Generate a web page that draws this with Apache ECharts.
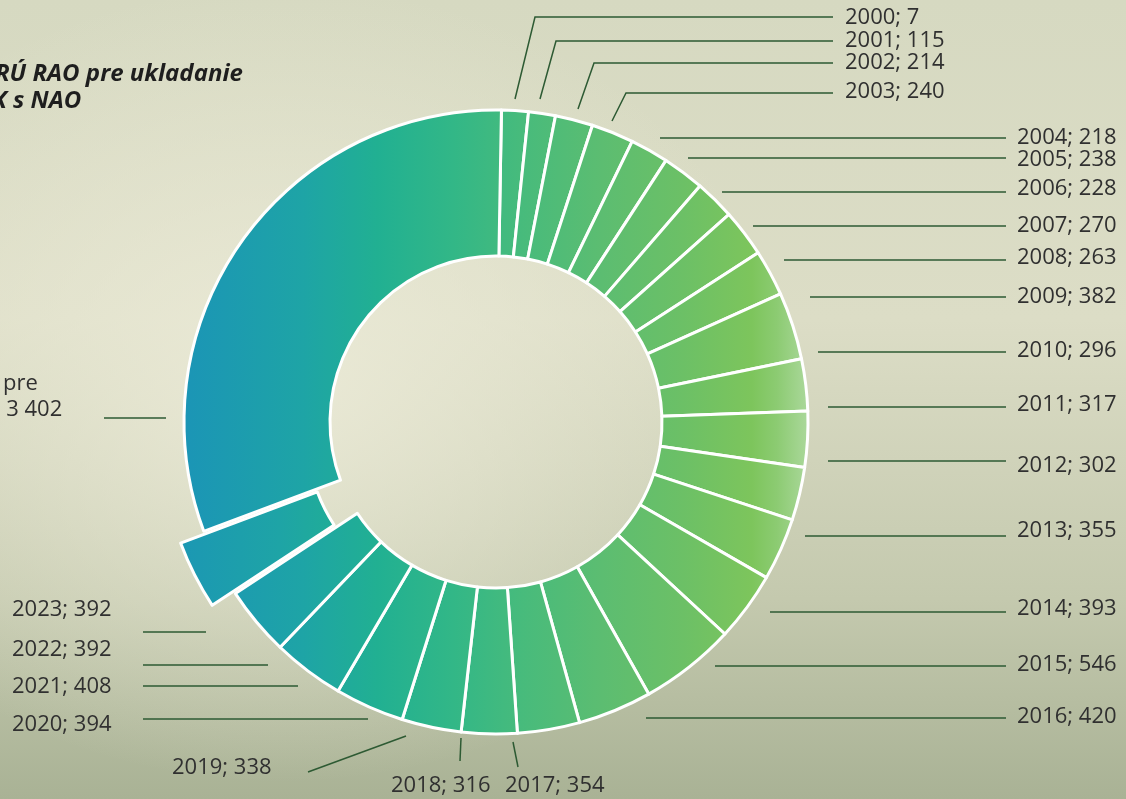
<!DOCTYPE html>
<html>
<head>
<meta charset="utf-8">
<title>RÚ RAO – VBK s NAO</title>
<script src="https://cdn.jsdelivr.net/npm/echarts@6/dist/echarts.min.js"></script>
<style>
  html, body {
    margin: 0;
    padding: 0;
  }
  #chart {
    width: 1126px;
    height: 799px;
    background:
      radial-gradient(ellipse 45% 50% at 25% 48%, rgba(236, 235, 216, 0.9), rgba(236, 235, 216, 0) 100%),
      linear-gradient(180deg, #d6d9c1 0%, #dcddc6 40%, #c4c9ae 75%, #a9b295 100%);
  }
</style>
</head>
<body>
<div id="chart"></div>
<script>
  // uložené VBK podľa rokov
  var years = ['2000', '2001', '2002', '2003', '2004', '2005', '2006', '2007', '2008', '2009', '2010', '2011',
    '2012', '2013', '2014', '2015', '2016', '2017', '2018', '2019', '2020', '2021', '2022', '2023']
  var stored = [7, 115, 214, 240, 218, 238, 228, 270, 263, 382, 296, 317,
    302, 355, 393, 546, 420, 354, 316, 338, 394, 408, 392, 392]
  // zvyšná kapacita
  var freeLine1 = 'Voľná kapacita pre'
  var freeLine2 = 'ukladanie VBK'
  var freeValue = 3402
  var explodedYear = '2023'

  var labelFont = "'Open Sans', sans-serif"
  var labelSize = 22
  var titleSize = 24

  // šírka textu (na posun orezaných textov za ľavý okraj)
  var measureCtx = document.createElement('canvas').getContext('2d')
  function textWidth (text, font) {
    measureCtx.font = font
    return measureCtx.measureText(text).width
  }

  // popis zvyšnej kapacity začína mimo obrázka, viditeľné je len "pre" a "3 402"
  var freeLabelX = 3 - textWidth('Voľná kapacita ', labelSize + 'px ' + labelFont)

  // umiestnenie popisov (x, y, zarovnanie, vodiaca čiara)
  var labelSpots = [
    {x: 845, y: 18, align: 'left', line: [[515, 99], [535, 17], [833, 17]]},
    {x: 845, y: 41, align: 'left', line: [[540, 99], [556, 41], [833, 41]]},
    {x: 845, y: 63, align: 'left', line: [[578, 109], [594, 63], [833, 63]]},
    {x: 845, y: 92, align: 'left', line: [[612, 121], [626, 93], [833, 93]]},
    {x: 1017, y: 138, align: 'left', line: [[660, 138], [1006, 138]]},
    {x: 1017, y: 160, align: 'left', line: [[688, 158], [1006, 158]]},
    {x: 1017, y: 189, align: 'left', line: [[722, 192], [1006, 192]]},
    {x: 1017, y: 226, align: 'left', line: [[753, 226], [1006, 226]]},
    {x: 1017, y: 258, align: 'left', line: [[784, 260], [1006, 260]]},
    {x: 1017, y: 297, align: 'left', line: [[810, 297], [1006, 297]]},
    {x: 1017, y: 351, align: 'left', line: [[818, 352], [1006, 352]]},
    {x: 1017, y: 405, align: 'left', line: [[828, 407], [1006, 407]]},
    {x: 1017, y: 466, align: 'left', line: [[828, 461], [1006, 461]]},
    {x: 1017, y: 531, align: 'left', line: [[805, 536], [1006, 536]]},
    {x: 1017, y: 609, align: 'left', line: [[770, 612], [1006, 612]]},
    {x: 1017, y: 665, align: 'left', line: [[715, 666], [1006, 666]]},
    {x: 1017, y: 717, align: 'left', line: [[646, 718], [1006, 718]]},
    {x: 505, y: 786, align: 'left', line: [[513, 742], [518, 767]]},
    {x: 391, y: 786, align: 'left', line: [[461, 738], [460, 761]]},
    {x: 172, y: 768, align: 'left', line: [[406, 736], [308, 772]]},
    {x: 12, y: 725, align: 'left', line: [[368, 719], [143, 719]]},
    {x: 12, y: 687, align: 'left', line: [[298, 686], [143, 686]]},
    {x: 12, y: 650, align: 'left', line: [[268, 665], [143, 665]]},
    {x: 12, y: 610, align: 'left', line: [[206, 632], [143, 632]]},
    {x: freeLabelX, y: 397, align: 'left', line: [[166, 418], [104, 418]]}
  ]

  function formatNumber (v) {
    return String(v).replace(/\B(?=(\d{3})+(?!\d))/g, ' ')
  }

  var fillGradient = {
    type: 'linear',
    x: 184, y: 0, x2: 808, y2: 0,
    global: true,
    colorStops: [
      {offset: 0, color: '#1b95b6'},
      {offset: 0.19, color: '#1ea4a6'},
      {offset: 0.31, color: '#21b092'},
      {offset: 0.43, color: '#32b787'},
      {offset: 0.54, color: '#47bb7c'},
      {offset: 0.67, color: '#5cbd71'},
      {offset: 0.8, color: '#6cc066'},
      {offset: 0.91, color: '#7dc55c'},
      {offset: 0.95, color: '#8ccb72'},
      {offset: 1, color: '#abd89b'}
    ]
  }
  var hiddenStyle = {color: 'rgba(0,0,0,0)', borderWidth: 0}
  var sliceStyle = {color: fillGradient, borderColor: '#ffffff', borderWidth: 3}

  // hlavný prstenec: všetky výseky okrem vysunutého, s popismi
  var ringData = []
  // vrchná vrstva: len vysunutý výsek
  var explodedData = []
  for (var i = 0; i < years.length; i++) {
    var isOut = years[i] === explodedYear
    ringData.push({name: years[i], value: stored[i], itemStyle: isOut ? hiddenStyle : sliceStyle})
    explodedData.push({name: years[i], value: stored[i], selected: isOut, itemStyle: isOut ? sliceStyle : hiddenStyle})
  }
  ringData.push({name: freeLine1 + '\n' + freeLine2, value: freeValue, itemStyle: sliceStyle})
  explodedData.push({name: freeLine1 + '\n' + freeLine2, value: freeValue, itemStyle: hiddenStyle})

  var pieBase = {
    type: 'pie',
    center: [496, 422],
    radius: [166, 312],
    startAngle: 89,
    minAngle: 5,
    clockwise: true,
    avoidLabelOverlap: false,
    emphasis: {disabled: true}
  }

  var titleStyle = {
    fontFamily: labelFont,
    fontSize: titleSize,
    fontWeight: 'bold',
    fontStyle: 'italic',
    color: '#1e1e1e'
  }
  var titleFont = 'italic bold ' + titleSize + 'px ' + labelFont

  var myChart = echarts.init(document.getElementById('chart'))
  var option = {
    animation: false,
    title: [
      {
        text: 'Kapacita RÚ RAO pre ukladanie',
        left: -5 - textWidth('Kapacita ', titleFont),
        top: 62,
        padding: 0,
        textStyle: titleStyle
      },
      {
        text: 'VBK s NAO',
        left: -8 - textWidth('VB', titleFont),
        top: 89,
        padding: 0,
        textStyle: titleStyle
      }
    ],
    series: [
      Object.assign({}, pieBase, {
        name: 'ring',
        selectedMode: false,
        label: {
          show: true,
          position: 'outside',
          width: 360,
          overflow: 'none',
          fontFamily: labelFont,
          fontSize: labelSize,
          lineHeight: 26,
          color: '#303030',
          formatter: function (p) {
            return p.name + '; ' + formatNumber(p.value)
          }
        },
        labelLine: {
          show: true,
          length: 10,
          length2: 10,
          lineStyle: {color: '#2d5a33', width: 1.5}
        },
        labelLayout: function (params) {
          var s = labelSpots[params.dataIndex]
          return {
            x: s.x,
            y: s.y,
            align: s.align,
            verticalAlign: 'middle',
            labelLinePoints: s.line
          }
        },
        data: ringData
      }),
      Object.assign({}, pieBase, {
        name: 'exploded',
        silent: true,
        selectedMode: 'single',
        selectedOffset: 26,
        label: {show: false},
        labelLine: {show: false},
        data: explodedData
      })
    ]
  }
  myChart.setOption(option)
</script>
</body>
</html>
